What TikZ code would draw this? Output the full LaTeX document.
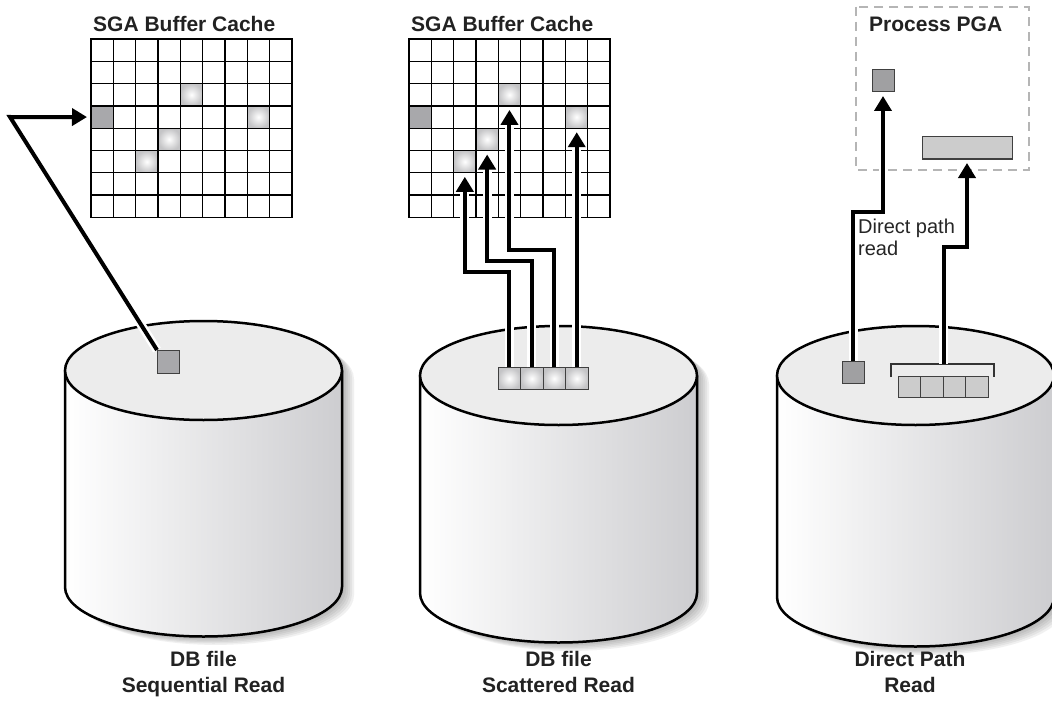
\documentclass[tikz,border=0pt]{standalone}
\usepackage{fontspec}
\setmainfont{Liberation Sans}
\usetikzlibrary{arrows.meta,calc}
\definecolor{topc}{HTML}{ECECEC}
\definecolor{sidec}{HTML}{CDCDD0}
\definecolor{darkc}{HTML}{A8A8AB}
\definecolor{hlc}{HTML}{C4C4C6}
\definecolor{barc}{HTML}{CCCCCC}
\definecolor{dashc}{HTML}{B5B5B5}
\definecolor{txtc}{HTML}{222222}
\newcommand\mycyl[3]{% #1 cx, #2 top centre y, #3 bottom centre y
  \begin{scope}[shift={(#1,0)}]
    \foreach \dd in {2,4,...,12}{
      \fill[black!70,opacity=0.08] (-138.5+\dd,#2+0.7*\dd) arc[start angle=180,end angle=0,x radius=138.5pt,y radius=49.5pt]
        -- (138.5+\dd,#3+0.7*\dd) arc[start angle=0,end angle=-180,x radius=138.5pt,y radius=49.5pt] -- cycle;
    }
    \path[left color=white,right color=sidec] (-138.5,#2) -- (-138.5,#3) arc[start angle=180,end angle=360,x radius=138.5pt,y radius=49.5pt] -- (138.5,#2) -- cycle;
    \draw[line width=2.5pt] (-138.5,#2) -- (-138.5,#3) arc[start angle=180,end angle=360,x radius=138.5pt,y radius=49.5pt] -- (138.5,#2);
    \filldraw[fill=topc,line width=2.5pt] (0,#2) ellipse[x radius=138.5pt,y radius=49.5pt];
  \end{scope}}
\newcommand\sgagrid[2]{% #1 x0, #2 prefix
  \foreach \r in {0,...,7}{
    \foreach \c in {0,...,8}{
      \node[cell] (#2-\r-\c) at ({#1+22.33*\c+11.165},{39+22.3*\r+11.15}) {};
    }
  }
  \node[cell,fill=darkc] at (#2-3-0.center) {};
  \node[cell,hl] at (#2-2-4.center) {};
  \node[cell,hl] at (#2-3-7.center) {};
  \node[cell,hl] at (#2-4-3.center) {};
  \node[cell,hl] at (#2-5-2.center) {};
  \node[title,anchor=base west] at (#1+2,32) {SGA Buffer Cache};}
\begin{document}
\begin{tikzpicture}[x=1pt,y=-1pt,
  cell/.style={draw=black,line width=1.3pt,minimum width=22.33pt,minimum height=22.3pt,inner sep=0pt,outer sep=0pt},
  hl/.style={inner color=white,outer color=hlc},
  blk/.style={draw=black!75,line width=1pt,minimum width=22.5pt,minimum height=22.5pt,inner sep=0pt,outer sep=0pt},
  title/.style={font=\fontsize{21}{24}\selectfont\bfseries,text=txtc,inner sep=0pt},
  lbl/.style={font=\fontsize{21}{26}\selectfont\bfseries,text=txtc,inner sep=0pt,align=center,anchor=north},
  arw/.style={line width=4pt,-{Triangle[width=17pt,length=15pt]},shorten >=4pt,
    preaction={draw=white,line width=9pt,-,shorten >=16pt}},
  pgabox/.style={draw=dashc,line width=1.3pt,dash pattern=on 9pt off 6pt}]
\useasboundingbox (0,0) rectangle (1052,706);
\fill[white] (0,0) rectangle (1052,706);

% cylinders
\mycyl{203.5}{370.5}{587}
\mycyl{558.5}{375.5}{593}
\mycyl{915.5}{375.5}{597}

% grids
\sgagrid{91}{L}
\sgagrid{409}{M}

% left: sequential read
\node[blk,fill=darkc,minimum width=22pt,minimum height=23pt] (s1) at (168,361.5) {};
\coordinate (bendL) at (10,117);
\draw[arw] (s1.north west) -- (bendL) -- (L-3-0.west);

% middle: scattered read
\foreach \i/\x in {1/509.25,2/531.75,3/554.25,4/576.75}{
  \node[blk,inner color=white,outer color=hlc] (b\i) at (\x,378.5) {};
}
\draw[arw] (b1.north) -- ++(0,-95) -| (M-5-2.south);
\draw[arw] (b2.north) -- ++(0,-106) -| (M-4-3.south);
\draw[arw] (b3.north) -- ++(0,-117) -| (M-2-4.south);
\draw[arw] (b4.north) -- (b4.north |- M-3-7.south);

% right: direct path read
\draw[pgabox] (856,7) rectangle (1029,170);
\node[title,anchor=base west] (pgat) at (869,32) {Process PGA};
\node[blk,fill=darkc!95!black,minimum width=22pt,minimum height=22pt] (pgasq) at (883,81) {};
\node[blk,fill=barc,minimum width=90pt,minimum height=22pt] (bar) at (967,148) {};
\node[blk,fill=darkc!95!black,minimum width=22pt,minimum height=22pt] (s3) at (853,372) {};
\foreach \i/\x in {1/909.25,2/931.75,3/954.25,4/976.75}{
  \node[blk,fill=barc,minimum height=21pt] (c\i) at (\x,386.5) {};
}
\coordinate (brk) at (943.5,364);
\draw[black!80,line width=1.3pt] (891,377) -- (891,364) -- (994,364) -- (994,377);
\draw[arw] (s3.north) -- ++(0,-149) -| (pgasq.south);
\draw[arw] (brk) -- ++(0,-117) -| (bar.south);
\node[font=\fontsize{20}{22}\selectfont,text=black!85,align=left,anchor=north west,inner sep=0pt] (dpr) at (858,219) {Direct path\\read};

% labels
\node[lbl] (l1) at (203.5,651) {DB file\\Sequential Read};
\node[lbl] (l2) at (558.5,651) {DB file\\Scattered Read};
\node[lbl] (l3) at (910,651) {Direct Path\\Read};
\end{tikzpicture}
\end{document}
